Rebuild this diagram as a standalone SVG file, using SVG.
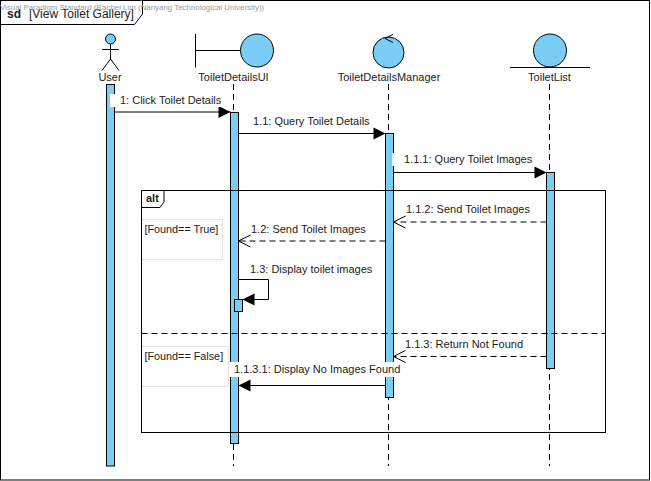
<svg xmlns="http://www.w3.org/2000/svg" width="651" height="481" viewBox="0 0 651 481">
<style>
text{font-family:"Liberation Sans",Arial,sans-serif;font-size:11px;fill:#1c1c1c}
.s{fill:none;stroke:#000;stroke-width:1}
.f{fill:#7acdf4;stroke:#000;stroke-width:1}
.d{fill:none;stroke:#000;stroke-width:1;stroke-dasharray:6 4}
.m{fill:none;stroke:#000;stroke-width:1}
.gb{fill:#fff;stroke:#e2e2e2;stroke-width:1}
.lb{fill:#fff}
.c{text-anchor:middle}
</style>
<defs>
<marker id="solid" markerUnits="userSpaceOnUse" markerWidth="14" markerHeight="14" refX="13" refY="7" orient="auto"><path d="M1 1 L13 7 L1 13 Z" fill="#000"/></marker>
<marker id="open" markerUnits="userSpaceOnUse" markerWidth="14" markerHeight="14" refX="13" refY="7" orient="auto"><path d="M1 1 L13 7 L1 13" fill="none" stroke="#000"/></marker>
</defs>
<rect width="651" height="481" fill="#fff"/>
<rect x="0.5" y="0.5" width="649" height="479.5" class="s"/>
<g id="frame">
<path d="M0.5 24.5 H134.500 L142.500 14 V0.5" fill="#fff" stroke="#000"/>
<text x="7" y="18" style="font-size:12px;font-weight:bold">sd</text>
<text x="29" y="18" style="font-size:12px">[View Toilet Gallery]</text>
<text x="0" y="10" style="font-size:7.900px;fill:#9a9a9a">Visual Paradigm Standard (Rachel Lim (Nanyang Technological University))</text>
</g>
<g id="lifelines">
<path class="d" d="M233.500 84V466"/>
<path class="d" d="M388.500 84V466"/>
<path class="d" d="M549.500 84V466"/>
</g>
<g id="User">
<circle cx="110.500" cy="39" r="5" class="f"/>
<path class="s" d="M110.500 44V59M102 49.500H119M110.500 59L102 70.500M110.500 59L119 70.500"/>
<text x="110" y="81" class="c">User</text>
<rect x="106.500" y="84.500" width="8" height="381.500" class="f"/>
</g>
<g id="ToiletDetailsUI">
<path class="s" d="M195.500 34V67.500M195.500 50.500H240"/>
<circle cx="257" cy="50.500" r="16.500" class="f"/>
<text x="233.500" y="81" class="c">ToiletDetailsUI</text>
<rect x="230.500" y="112.500" width="8" height="331" class="f"/>
</g>
<g id="ToiletDetailsManager">
<circle cx="388.500" cy="52.500" r="15.500" class="f"/>
<path class="s" d="M393 34.500L385 38.500L393 42.500"/>
<text x="389" y="81" class="c">ToiletDetailsManager</text>
<rect x="385.500" y="133.500" width="8" height="264" class="f"/>
</g>
<g id="ToiletList">
<circle cx="550" cy="50.500" r="16.500" class="f"/>
<path class="s" d="M510 67.500H590"/>
<text x="549.500" y="81" class="c">ToiletList</text>
<rect x="546.500" y="172.500" width="8" height="196" class="f"/>
</g>
<g id="alt">
<rect x="141.500" y="190.500" width="464" height="242" class="s"/>
<path class="s" d="M141.500 207.500H160L164 202V190.500"/>
<text x="146" y="202" style="font-weight:bold">alt</text>
<path class="d" d="M141.500 333.500H605.500"/>
</g>
<g id="guards">
<path class="gb" d="M142 219.500H222.500V259.500H142"/>
<text x="144.500" y="233" style="font-size:10.800px">[Found== True]</text>
<path class="gb" d="M142 346.500H228.500V386.500H142"/>
<text x="144.500" y="360" style="font-size:10.800px">[Found== False]</text>
</g>
<g id="self-activation">
<rect x="234.500" y="299.500" width="8" height="12" class="f"/>
</g>
<g id="connectors">
<path class="m" d="M114.500 112H230.500" marker-end="url(#solid)"/>
<path class="m" d="M238.500 133.500H385.500" marker-end="url(#solid)"/>
<path class="m" d="M393.500 172.500H546.500" marker-end="url(#solid)"/>
<path class="d" d="M546.500 222H393.500" marker-end="url(#open)"/>
<path class="d" d="M385.500 241H238.500" marker-end="url(#open)"/>
<path class="m" d="M238.500 279.500H268.500V299.500H242.500" marker-end="url(#solid)"/>
<path class="d" d="M546.500 356.500H393.500" marker-end="url(#open)"/>
<path class="m" d="M385.500 385.500H238.500" marker-end="url(#solid)"/>
</g>
<g id="labels">
<rect x="110" y="94" width="115" height="13" class="lb"/>
<text x="120" y="104">1: Click Toilet Details</text>
<text x="253" y="125">1.1: Query Toilet Details</text>
<rect x="392" y="153" width="5" height="13" class="lb"/>
<text x="404" y="163">1.1.1: Query Toilet Images</text>
<text x="406" y="213">1.1.2: Send Toilet Images</text>
<text x="251" y="233">1.2: Send Toilet Images</text>
<text x="250" y="273">1.3: Display toilet images</text>
<text x="405" y="348">1.1.3: Return Not Found</text>
<rect x="229" y="362" width="171" height="15" class="lb"/>
<text x="234" y="373">1.1.3.1: Display No Images Found</text>
</g>
</svg>
